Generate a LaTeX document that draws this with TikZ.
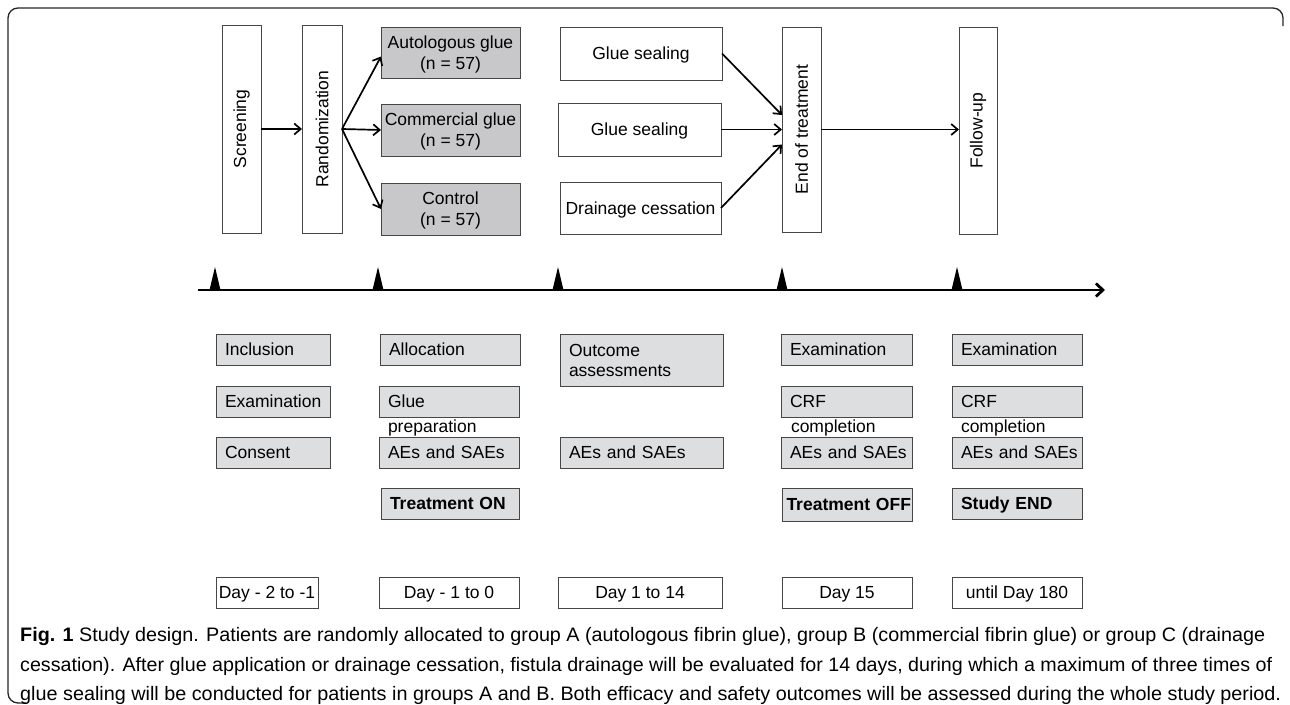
\documentclass[tikz,border=0pt]{standalone}
\usepackage{fontspec}
\setmainfont{Liberation Sans}
\usepackage{graphicx}
\usetikzlibrary{arrows.meta,calc}

\definecolor{topfill}{RGB}{200,200,202}
\definecolor{lowfill}{RGB}{221,222,224}
\definecolor{edge}{RGB}{70,70,70}

\newsavebox\capbox
\newcommand\capline[2]{\sbox\capbox{#2}\resizebox{#1}{\ht\capbox}{\usebox\capbox}}

\begin{document}
\begin{tikzpicture}[x=1pt,y=-1pt,
  every node/.style={inner sep=0pt, outer sep=0pt},
  base/.style={draw=edge, line width=0.9pt, anchor=north west, font=\fontsize{17.5}{21}\selectfont},
  one/.style={text height=12.5pt, text depth=0pt},
  vbox/.style={base, fill=white},
  gbox/.style={base, fill=topfill, align=center, text height=33.5pt, text depth=0pt},
  sealbox/.style={base, fill=white, one},
  lbox/.style={base, fill=lowfill, one, align=left, inner xsep=9pt, text width=#1, minimum height=31pt},
  dbox/.style={base, fill=white, one, minimum height=31pt},
  extra/.style={anchor=base west, font=\fontsize{17.5}{21}\selectfont},
  arr/.style={line width=1.7pt, -{Straight Barb[length=6.5pt,width=11pt]}},
  axis/.style={line width=2.8pt, -{Straight Barb[length=7pt,width=13pt]}},
  frame/.style={line width=1.3pt, draw=black!85, rounded corners=10pt}
]
\useasboundingbox (0,0) rectangle (1290,704);

% frame
\draw[frame] (1283,26) -- (1283,8) -- (8,8) -- (8,703) -- (26,703);

% top flow
\node[vbox, minimum width=39pt, minimum height=208pt] (scr) at (222,25) {\rotatebox{90}{Screening}};
\node[vbox, minimum width=40pt, minimum height=208pt] (rand) at (302,25) {\rotatebox{90}{Randomization}};
\node[gbox, minimum width=139pt, minimum height=51pt] (auto) at (381,27) {Autologous glue\\(n = 57)};
\node[gbox, minimum width=139pt, minimum height=52pt] (comm) at (381,104) {Commercial glue\\(n = 57)};
\node[gbox, minimum width=139pt, minimum height=52pt] (ctrl) at (381,183) {Control\\(n = 57)};
\node[sealbox, minimum width=162pt, minimum height=53pt] (gs1) at (560,27) {Glue sealing};
\node[sealbox, minimum width=163pt, minimum height=53pt] (gs2) at (558,103) {Glue sealing};
\node[sealbox, minimum width=161pt, minimum height=52pt] (drn) at (560,182) {Drainage cessation};
\node[vbox, minimum width=39pt, minimum height=205pt] (eot) at (782,27) {\rotatebox{90}{End of treatment}};
\node[vbox, minimum width=38pt, minimum height=207pt] (fu) at (959,27) {\rotatebox{90}{Follow-up}};

\draw[arr] (scr.east) -- (rand.west);
\draw[arr] (rand.east) -- ([yshift=-4pt]auto.west);
\draw[arr] (rand.east) -- (comm.west);
\draw[arr] (rand.east) -- (ctrl.west);
\draw[arr] (gs1.east) -- ([yshift=14.5pt]eot.west);
\draw[arr] (gs2.east) -- (eot.west);
\draw[arr] (drn.east) -- ([yshift=-15pt]eot.west);
\draw[arr] (eot.east) -- (eot.east -| fu.west);

% timeline
\coordinate (t0) at (198,290);
\coordinate (t1) at (1105,290);
\draw[axis] (t0) -- (t1);
\foreach \x in {215,378,558,782,957}
  \fill (\x-5.5,290) -- (\x,267) -- (\x+5.5,290) -- cycle;

% column 1
\node[lbox=96pt] (inc) at (216,334) {\mbox{Inclusion}};
\node[lbox=96pt] (ex1) at (216,386) {\mbox{Examination}};
\node[lbox=96pt] (con) at (216,437) {\mbox{Consent}};
% column 2
\node[lbox=122pt] (alo) at (380,334) {\mbox{Allocation}};
\node[lbox=122pt] (glu) at (379,386) {\mbox{Glue}};
\node[extra] (prep) at (388,432) {preparation};
\node[lbox=122pt] (ae2) at (379,437) {\mbox{AEs and SAEs}};
\node[lbox=120pt, font=\fontsize{17.5}{21}\selectfont\bfseries] (ton) at (381,488) {\mbox{Treatment ON}};
% column 3
\node[lbox=145pt, font=\fontsize{17.5}{20}\selectfont, text depth=20pt, minimum height=52pt] (out) at (560,334) {Outcome\\assessments};
\node[lbox=145pt] (ae3) at (560,437) {\mbox{AEs and SAEs}};
% column 4
\node[lbox=113pt] (ex4) at (781,334) {\mbox{Examination}};
\node[lbox=113pt] (crf4) at (781,386) {\mbox{CRF}};
\node[extra] (cmp4) at (791,432) {completion};
\node[lbox=113pt] (ae4) at (781,437) {\mbox{AEs and SAEs}};
\node[lbox=121pt, inner xsep=4.5pt, minimum height=33pt, font=\fontsize{17.5}{21}\selectfont\bfseries] (toff) at (782,488) {\mbox{Treatment OFF}};
% column 5
\node[lbox=112pt] (ex5) at (952,334) {\mbox{Examination}};
\node[lbox=112pt] (crf5) at (952,386) {\mbox{CRF}};
\node[extra] (cmp5) at (961,432) {completion};
\node[lbox=112pt] (ae5) at (952,437) {\mbox{AEs and SAEs}};
\node[lbox=112pt, font=\fontsize{17.5}{21}\selectfont\bfseries] (send) at (952,488) {\mbox{Study END}};

% day boxes
\node[dbox, minimum width=102pt] (d1) at (216,577) {Day - 2 to -1};
\node[dbox, minimum width=140pt] (d2) at (379,577) {Day - 1 to 0};
\node[dbox, minimum width=164pt] (d3) at (558,577) {Day 1 to 14};
\node[dbox, minimum width=130pt] (d4) at (782,577) {Day 15};
\node[dbox, minimum width=130pt] (d5) at (952,577) {until Day 180};

% caption
\begin{scope}[every node/.style={anchor=base west, inner sep=0pt, font=\fontsize{19.5}{24}\selectfont}]
\node (cap1) at (20,641) {\capline{1245pt}{\textbf{Fig. 1} Study design. Patients are randomly allocated to group A (autologous fibrin glue), group B (commercial fibrin glue) or group C (drainage}};
\node (cap2) at (20,671) {\capline{1252pt}{cessation). After glue application or drainage cessation, fistula drainage will be evaluated for 14 days, during which a maximum of three times of}};
\node (cap3) at (20,700) {\capline{1261pt}{glue sealing will be conducted for patients in groups A and B. Both efficacy and safety outcomes will be assessed during the whole study period.}};
\end{scope}
\end{tikzpicture}
\end{document}
